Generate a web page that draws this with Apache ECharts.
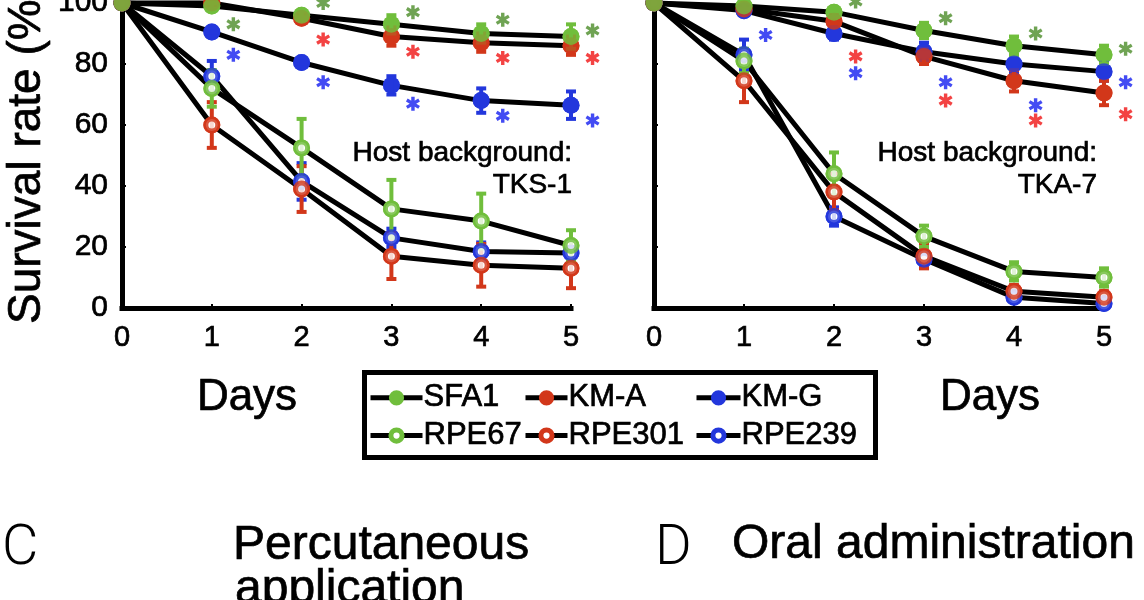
<!DOCTYPE html>
<html>
<head>
<meta charset="utf-8">
<script src="https://cdn.jsdelivr.net/npm/echarts@6/dist/echarts.min.js"></script>
<style>
  html, body { margin: 0; padding: 0; background: #fff; }
  #chart { width: 1144px; height: 600px; }
</style>
</head>
<body>
<div id="chart"></div>
<script>
// x axis: days after infection, y axis: survival (%)
var days = [0, 1, 2, 3, 4, 5];
var yMin = 0, yMax = 100, yStep = 20;

// host background TKS-1 (left panel)
var tks1SFA1   = [100, 99, 96, 93, 90, 89];
var tks1KMA    = [100, 100, 95, 89, 87, 86];
var tks1KMG    = [100, 90.5, 80.5, 73, 68, 66.5];
var tks1RPE67  = [100, 72, 52.5, 32.5, 28.5, 20.5];
var tks1RPE301 = [100, 60, 39, 17, 14, 13];
var tks1RPE239 = [100, 76, 41.5, 23, 18.5, 18];
// error bars (+/-)
var tks1SFA1Err   = [0, 1, 1.5, 3, 3, 4];
var tks1KMAErr    = [0, 1, 1.5, 3, 3, 3];
var tks1KMGErr    = [0, 1.5, 1.5, 3, 4, 4.5];
var tks1RPE67Err  = [0, 6, 9.5, 9.5, 9, 5];
var tks1RPE301Err = [0, 7.5, 7.5, 7.5, 7, 6.5];
var tks1RPE239Err = [0, 5, 6, 3, 3, 2];
// significance marks: [day, height]
var tks1StarsGreen = [[1, 93], [2, 100], [3, 97], [4, 94.5], [5, 91]];
var tks1StarsRed   = [[2, 88], [3, 84], [4, 82], [5, 82]];
var tks1StarsBlue  = [[1, 83], [2, 74], [3, 67], [4, 63], [5, 61.5]];

// host background TKA-7 (right panel)
var tka7SFA1   = [100, 99, 97, 91, 86, 83];
var tka7KMA    = [100, 98, 94, 82.5, 74.5, 70.5];
var tka7KMG    = [100, 97.5, 90, 84, 80, 77.5];
var tka7RPE67  = [100, 81, 44, 23.5, 12, 10];
var tka7RPE301 = [100, 74.5, 38, 17, 5.5, 3.5];
var tka7RPE239 = [100, 83, 30, 16, 3.5, 1.5];
var tka7SFA1Err   = [0, 1, 1.5, 2.5, 3, 3];
var tka7KMAErr    = [0, 1, 2, 2.5, 3.5, 4];
var tka7KMGErr    = [0, 1, 2, 3, 3, 3];
var tka7RPE67Err  = [0, 4, 7, 3.5, 3, 3];
var tka7RPE301Err = [0, 7, 6, 4, 2, 2];
var tka7RPE239Err = [0, 5, 3, 2, 1, 1];
var tka7StarsGreen = [[2, 100.5], [3, 95], [4, 90], [5, 85]];
var tka7StarsRed   = [[2, 82.5], [3, 68], [4, 61.5], [5, 63.5]];
var tka7StarsBlue  = [[1, 89.5], [2, 77], [3, 74], [4, 66.5], [5, 74]];

var FONT = '"Liberation Sans", Arial, sans-serif';
var GREEN = '#70be3c', RED = '#d2371a', BLUE = '#2337dc';
var STAR_COLORS = { green: '#4b8c28', red: '#f01414', blue: '#141ef0' };
var STAR_SHIFT = 0.24;
// six-armed asterisk
var STAR = 'path://M38,0L62,0L62,100L38,100Z' +
  'M13,86L1,66L87,14L99,34Z' +
  'M99,66L87,86L1,34L13,14Z';
var INK = 0.7; // thickens text a little, the source figure is heavy

var strainStyle = {
  'SFA1':   { color: GREEN, open: false },
  'KM-A':   { color: RED,   open: false },
  'KM-G':   { color: BLUE,  open: false },
  'RPE67':  { color: GREEN, open: true },
  'RPE301': { color: RED,   open: true },
  'RPE239': { color: BLUE,  open: true }
};
// bottom to top
var drawOrder = ['RPE239', 'RPE301', 'RPE67', 'KM-G', 'KM-A', 'SFA1'];

var panels = [
  {
    host: 'TKS-1',
    values: { 'SFA1': tks1SFA1, 'KM-A': tks1KMA, 'KM-G': tks1KMG, 'RPE67': tks1RPE67, 'RPE301': tks1RPE301, 'RPE239': tks1RPE239 },
    errors: { 'SFA1': tks1SFA1Err, 'KM-A': tks1KMAErr, 'KM-G': tks1KMGErr, 'RPE67': tks1RPE67Err, 'RPE301': tks1RPE301Err, 'RPE239': tks1RPE239Err },
    stars: { green: tks1StarsGreen, red: tks1StarsRed, blue: tks1StarsBlue }
  },
  {
    host: 'TKA-7',
    values: { 'SFA1': tka7SFA1, 'KM-A': tka7KMA, 'KM-G': tka7KMG, 'RPE67': tka7RPE67, 'RPE301': tka7RPE301, 'RPE239': tka7RPE239 },
    errors: { 'SFA1': tka7SFA1Err, 'KM-A': tka7KMAErr, 'KM-G': tka7KMGErr, 'RPE67': tka7RPE67Err, 'RPE301': tka7RPE301Err, 'RPE239': tka7RPE239Err },
    stars: { green: tka7StarsGreen, red: tka7StarsRed, blue: tka7StarsBlue }
  }
];

function pairs(vals) {
  return days.map(function (d, i) { return [d, vals[i]]; });
}

function errorBars(color) {
  return function (params, api) {
    var x = api.value(0), y = api.value(1), e = api.value(2);
    if (!e) return null;
    var top = api.coord([x, y + e]);
    var bot = api.coord([x, y - e]);
    var st = { stroke: color, lineWidth: 4 };
    return {
      type: 'group',
      children: [
        { type: 'line', shape: { x1: top[0], y1: top[1], x2: bot[0], y2: bot[1] }, style: st },
        { type: 'line', shape: { x1: top[0] - 5, y1: top[1], x2: top[0] + 5, y2: top[1] }, style: st },
        { type: 'line', shape: { x1: bot[0] - 5, y1: bot[1], x2: bot[0] + 5, y2: bot[1] }, style: st }
      ]
    };
  };
}

// open markers are white discs with a thick coloured rim
function markerStyle(s) {
  return s.open
    ? { symbol: 'circle', symbolSize: 12, itemStyle: { color: '#fff', borderColor: s.color, borderWidth: 5 } }
    : { symbol: 'circle', symbolSize: 17, itemStyle: { color: s.color } };
}

var series = [];
panels.forEach(function (p, k) {
  drawOrder.forEach(function (name) {
    var s = strainStyle[name];
    var m = markerStyle(s);
    // black connecting line
    series.push({
      name: name, type: 'line', xAxisIndex: k, yAxisIndex: k, z: 2, clip: false,
      data: pairs(p.values[name]),
      symbol: m.symbol, symbolSize: m.symbolSize, itemStyle: m.itemStyle,
      lineStyle: { color: '#000', width: 5 },
      emphasis: { disabled: true }
    });
    // error bars
    series.push({
      name: name + ' sd', type: 'custom', xAxisIndex: k, yAxisIndex: k, z: 3, clip: false,
      data: days.map(function (d, i) { return [d, p.values[name][i], p.errors[name][i]]; }),
      encode: { x: 0, y: 1 },
      renderItem: errorBars(s.color)
    });
  });
  drawOrder.forEach(function (name) {
    var m = markerStyle(strainStyle[name]);
    // markers on top of every line
    series.push({
      name: name + ' pts', type: 'scatter', xAxisIndex: k, yAxisIndex: k, z: 4, clip: false,
      data: pairs(p.values[name]),
      symbol: m.symbol, symbolSize: m.symbolSize, itemStyle: m.itemStyle,
      emphasis: { disabled: true }
    });
  });
  Object.keys(p.stars).forEach(function (c) {
    series.push({
      name: 'sig ' + c, type: 'scatter', xAxisIndex: k, yAxisIndex: k, z: 5, clip: false,
      data: p.stars[c].map(function (d) { return [d[0] + STAR_SHIFT, d[1]]; }),
      symbol: STAR, symbolSize: 14,
      itemStyle: { color: STAR_COLORS[c] },
      emphasis: { disabled: true }
    });
  });
});

var axisLine = { show: true, onZero: false, lineStyle: { color: '#000', width: 5, cap: 'square' } };
var axisTick = { show: true, inside: true, length: 4, lineStyle: { color: '#000', width: 2 } };

function xAxis(idx) {
  return {
    type: 'value', gridIndex: idx, min: days[0], max: days[days.length - 1], interval: 1,
    axisLine: axisLine, axisTick: axisTick, splitLine: { show: false },
    axisLabel: { color: '#000', fontSize: 29, fontFamily: FONT, margin: 15,
      textBorderColor: '#000', textBorderWidth: INK }
  };
}
function yAxis(idx, labels) {
  return {
    type: 'value', gridIndex: idx, min: yMin, max: yMax, interval: yStep,
    axisLine: axisLine, axisTick: axisTick, splitLine: { show: false },
    axisLabel: { show: labels, color: '#000', fontSize: 30, fontFamily: FONT, margin: 14,
      textBorderColor: '#000', textBorderWidth: INK }
  };
}

// legend symbols share one size, so rims set the visible diameter
function legendCol(names, left, w) {
  return {
    data: names.map(function (n) {
      var s = strainStyle[n];
      return { name: n, itemStyle: { borderWidth: s.open ? 5 : 4, borderColor: s.color } };
    }),
    orient: 'vertical', left: left, top: 382, padding: 0,
    itemWidth: w, itemHeight: 14, itemGap: 6, selectedMode: false,
    lineStyle: { color: '#000', width: 5 },
    textStyle: { color: '#000', fontSize: 31, fontFamily: FONT, lineHeight: 30,
      padding: [0, 0, 0, -4], textBorderColor: '#000', textBorderWidth: INK }
  };
}

function label(text, x, y, size, align, extra) {
  var st = { text: text, font: size + 'px ' + FONT, fill: '#000', stroke: '#000', lineWidth: INK,
    align: align, textAlign: align, verticalAlign: 'middle', textVerticalAlign: 'middle' };
  var el = { type: 'text', x: x, y: y, style: st, silent: true };
  if (extra) for (var key in extra) el[key] = extra[key];
  return el;
}

function panelLetter(text, x, y) {
  return { type: 'text', x: x, y: y, silent: true,
    style: { text: text, font: '300 56px Roboto, sans-serif', fill: '#000',
      align: 'left', verticalAlign: 'middle', textAlign: 'left', textVerticalAlign: 'middle' } };
}

var chart = echarts.init(document.getElementById('chart'));
chart.setOption({
  animation: false,
  backgroundColor: '#fff',
  grid: [
    { left: 122, right: 573, top: 3, bottom: 292, outerBoundsMode: 'none', containLabel: false },
    { left: 654, right: 40, top: 3, bottom: 292, outerBoundsMode: 'none', containLabel: false }
  ],
  xAxis: [xAxis(0), xAxis(1)],
  yAxis: [yAxis(0, true), yAxis(1, false)],
  legend: [
    legendCol(['SFA1', 'RPE67'], 368, 52),
    legendCol(['KM-A', 'RPE301'], 523, 42),
    legendCol(['KM-G', 'RPE239'], 694, 44)
  ],
  series: series,
  graphic: [
    { type: 'rect', shape: { x: 364.5, y: 372.5, width: 511, height: 85 },
      style: { fill: 'none', stroke: '#000', lineWidth: 5 }, silent: true, z: 10 },
    label('Survival rate (%)', 27, 324, 46, 'left', { rotation: Math.PI / 2 }),
    label('Host background:', 572, 153, 28, 'right'),
    label(panels[0].host, 572, 185, 28, 'right'),
    label('Host background:', 1097, 153, 28, 'right'),
    label(panels[1].host, 1097, 185, 28, 'right'),
    label('Days', 247, 398, 44, 'center'),
    label('Days', 990, 398, 44, 'center'),
    panelLetter('C', 2, 550),
    panelLetter('D', 655, 550),
    label('Percutaneous', 233, 546, 48, 'left'),
    label('application', 235, 590, 48, 'left'),
    label('Oral administration', 732, 545, 48, 'left')
  ]
});
</script>
</body>
</html>
